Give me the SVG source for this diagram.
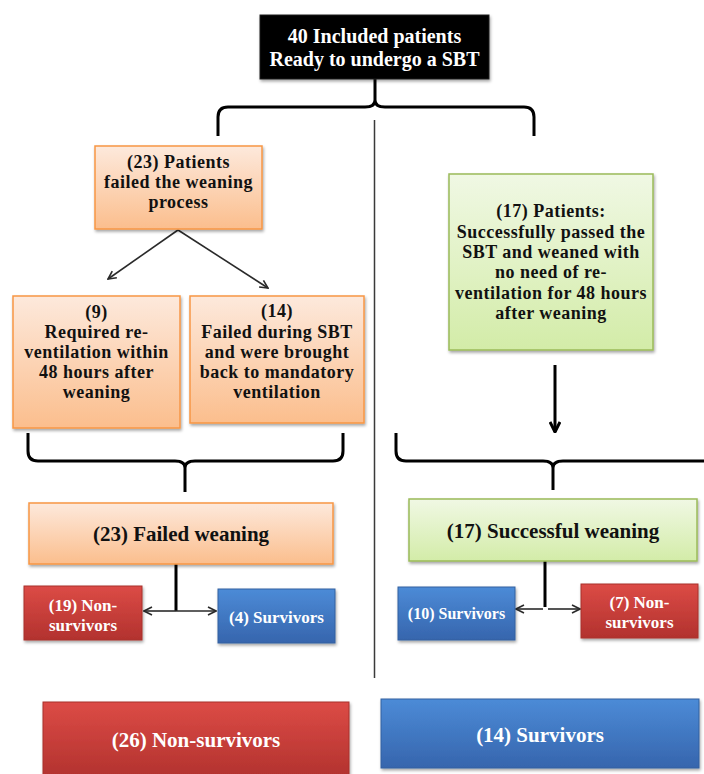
<svg xmlns="http://www.w3.org/2000/svg" width="704" height="774" viewBox="0 0 704 774">
<style>
.t{font-family:"Liberation Serif","Times New Roman",serif;font-weight:bold;text-anchor:middle;fill:#111}
.m{font-size:18px;letter-spacing:0.5px}
.w{fill:#fff}
.or{fill:url(#gOr);stroke:#f79646;stroke-width:1.5}
.gr{fill:url(#gGr);stroke:#9bbb59;stroke-width:1.5}
.rd{fill:url(#gRd);stroke:#a8302c;stroke-width:1}
.bl{fill:url(#gBl);stroke:#33609f;stroke-width:1}
.bk{fill:#000;stroke:#222;stroke-width:1}
.brace{fill:none;stroke:#000;stroke-width:3;stroke-linejoin:round}
.thin{fill:none;stroke:#2a2a2a;stroke-width:1.6}
</style>
<defs>
<linearGradient id="gOr" x1="0" y1="0" x2="0" y2="1"><stop offset="0" stop-color="#fde9dc"/><stop offset="1" stop-color="#fbbe8d"/></linearGradient>
<linearGradient id="gGr" x1="0" y1="0" x2="0" y2="1"><stop offset="0" stop-color="#f0f8e4"/><stop offset="1" stop-color="#d3eca8"/></linearGradient>
<linearGradient id="gRd" x1="0" y1="0" x2="0" y2="1"><stop offset="0" stop-color="#dc4b46"/><stop offset="1" stop-color="#b2322e"/></linearGradient>
<linearGradient id="gBl" x1="0" y1="0" x2="0" y2="1"><stop offset="0" stop-color="#4c8bd7"/><stop offset="1" stop-color="#3665ad"/></linearGradient>
<filter id="sh" x="-10%" y="-10%" width="120%" height="130%"><feDropShadow dx="1" dy="2" stdDeviation="1.5" flood-color="#000" flood-opacity="0.35"/></filter>
<marker id="ah" viewBox="0 0 10 10" refX="9" refY="5" markerWidth="10" markerHeight="10" markerUnits="userSpaceOnUse" orient="auto"><path d="M1,1 L9,5 L1,9" fill="none" stroke="#2a2a2a" stroke-width="1.6"/></marker>
<marker id="ahb" viewBox="0 0 12 12" refX="11" refY="6" markerWidth="12" markerHeight="12" markerUnits="userSpaceOnUse" orient="auto"><path d="M1,1 L11,6 L1,11" fill="none" stroke="#000" stroke-width="3"/></marker>
</defs>
<rect width="704" height="774" fill="#fff"/>

<g id="connectors">
<path class="brace" d="M218,136 L218,117 Q218,107 228,107 L365,107 Q375,107 375,100 L375,79 M375,100 Q375,107 385,107 L524,107 Q534,107 534,117 L534,136"/>
<line x1="374.5" y1="120" x2="374.5" y2="678" stroke="#3a3a3a" stroke-width="1.5"/>
<line class="thin" x1="178" y1="230" x2="108" y2="279" marker-end="url(#ah)"/>
<line class="thin" x1="178" y1="230" x2="268" y2="288" marker-end="url(#ah)"/>
<path class="brace" d="M28,433 L28,451 Q28,461 38,461 L175,461 Q185,461 185,468 L185,492 M343,433 L343,451 Q343,461 333,461 L195,461 Q185,461 185,468"/>
<path class="brace" d="M396,433 L396,451 Q396,461 406,461 L543,461 Q553,461 553,468 L553,490 M553,468 Q553,461 563,461 L710,461"/>
<line x1="555" y1="365" x2="555" y2="432" stroke="#000" stroke-width="3" marker-end="url(#ahb)"/>
<line x1="176" y1="564" x2="176" y2="611" stroke="#000" stroke-width="3"/>
<line class="thin" x1="176" y1="611" x2="144" y2="611" marker-end="url(#ah)"/>
<line class="thin" x1="176" y1="611" x2="216" y2="611" marker-end="url(#ah)"/>
<line x1="545" y1="561" x2="545" y2="607" stroke="#000" stroke-width="3"/>
<line class="thin" x1="543" y1="609" x2="516" y2="609" marker-end="url(#ah)"/>
<line class="thin" x1="548" y1="609" x2="580" y2="609" marker-end="url(#ah)"/>
</g>

<g id="n_included">
<rect class="bk" x="260" y="15" width="229" height="64" filter="url(#sh)"/>
<text class="t w" x="374.5" y="43" font-size="20">40 Included patients</text>
<text class="t w" x="374.5" y="66" font-size="20">Ready to undergo a SBT</text>
</g>

<g id="n_failed_process">
<rect class="or" x="95" y="146" width="167" height="83" filter="url(#sh)"/>
<text class="t m" x="178.5" y="168">(23) Patients</text>
<text class="t m" x="178.5" y="188">failed the weaning</text>
<text class="t m" x="178.5" y="208">process</text>
</g>

<g id="n_passed">
<rect class="gr" x="449" y="174" width="204" height="176" filter="url(#sh)"/>
<text class="t m" x="551" y="217">(17) Patients:</text>
<text class="t m" x="551" y="238">Successfully passed the</text>
<text class="t m" x="551" y="258">SBT and weaned with</text>
<text class="t m" x="551" y="278">no need of re-</text>
<text class="t m" x="551" y="299">ventilation for 48 hours</text>
<text class="t m" x="551" y="319">after weaning</text>
</g>

<g id="n_reventilation">
<rect class="or" x="13" y="296" width="167" height="132" filter="url(#sh)"/>
<text class="t m" x="96.5" y="318">(9)</text>
<text class="t m" x="96.5" y="338">Required re-</text>
<text class="t m" x="96.5" y="358">ventilation within</text>
<text class="t m" x="96.5" y="378">48 hours after</text>
<text class="t m" x="96.5" y="398">weaning</text>
</g>

<g id="n_failed_sbt">
<rect class="or" x="190" y="296" width="174" height="127" filter="url(#sh)"/>
<text class="t m" x="277" y="317">(14)</text>
<text class="t m" x="277" y="338">Failed during SBT</text>
<text class="t m" x="277" y="358">and were brought</text>
<text class="t m" x="277" y="378">back to mandatory</text>
<text class="t m" x="277" y="398">ventilation</text>
</g>

<g id="n_failed_weaning">
<rect class="or" x="29" y="503" width="304" height="61" filter="url(#sh)"/>
<text class="t" x="181" y="541" font-size="21">(23) Failed weaning</text>
</g>

<g id="n_successful_weaning">
<rect class="gr" x="409" y="499" width="288" height="62" filter="url(#sh)"/>
<text class="t" x="553" y="538" font-size="21">(17) Successful weaning</text>
</g>

<g id="n_19_nonsurv">
<rect class="rd" x="24" y="586" width="118" height="54" filter="url(#sh)"/>
<text class="t w" x="83" y="611" font-size="17">(19) Non-</text>
<text class="t w" x="83" y="631" font-size="17">survivors</text>
</g>

<g id="n_4_surv">
<rect class="bl" x="218" y="589" width="117" height="54" filter="url(#sh)"/>
<text class="t w" x="276.5" y="623" font-size="17">(4) Survivors</text>
</g>

<g id="n_10_surv">
<rect class="bl" x="398" y="587" width="117" height="53" filter="url(#sh)"/>
<text class="t w" x="456.5" y="619" font-size="16">(10) Survivors</text>
</g>

<g id="n_7_nonsurv">
<rect class="rd" x="581" y="584" width="117" height="54" filter="url(#sh)"/>
<text class="t w" x="639.5" y="608" font-size="17">(7) Non-</text>
<text class="t w" x="639.5" y="628" font-size="17">survivors</text>
</g>

<g id="n_26_nonsurv">
<rect class="rd" x="43" y="702" width="306" height="76" filter="url(#sh)"/>
<text class="t w" x="196" y="747" font-size="21">(26) Non-survivors</text>
</g>

<g id="n_14_surv">
<rect class="bl" x="381" y="699" width="318" height="69" filter="url(#sh)"/>
<text class="t w" x="540" y="742" font-size="21">(14) Survivors</text>
</g>
</svg>
